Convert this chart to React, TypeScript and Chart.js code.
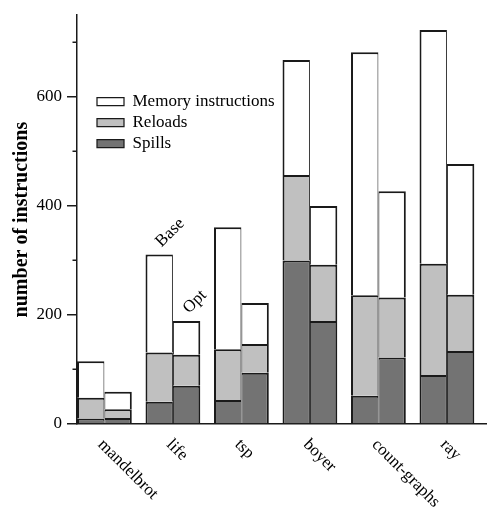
import React, { useEffect, useRef } from "react";
import { Chart, registerables } from "chart.js";

Chart.register(...registerables);

const categories = ["mandelbrot", "life", "tsp", "boyer", "count-graphs", "ray"];
const baseSpills = [10, 41, 44, 300, 52, 90];
const baseReloads = [38, 90, 93, 157, 184, 204];
const baseMemory = [67, 180, 224, 211, 446, 429];
const optSpills = [11, 70, 94, 189, 122, 134];
const optReloads = [16, 57, 53, 103, 110, 103];
const optMemory = [32, 62, 75, 108, 195, 240];
const yTicks = [0, 200, 400, 600];
const yMinorTicks = [100, 300, 500, 700];
const seriesNames = ["Spills", "Reloads", "Memory instructions"];
const stackNames = ["Base", "Opt"];

const FONT = "'Liberation Serif', 'Times New Roman', serif";
const SPILL = "#737373";
const RELOAD = "#c0c0c0";
const MEMORY = "#ffffff";
const LINE = "#1a1a1a";

const toXY = (arr: number[]) => arr.map((v, i) => ({ x: i, y: v }));

const overlayPlugin = {
  id: "overlay",
  afterLayout(chart: any) {
    const lg = chart.legend;
    const a = chart.chartArea;
    if (lg && a) {
      lg.left = a.left + 16;
      lg.right = lg.left + lg.width;
      lg.top = a.top + 74;
      lg.bottom = lg.top + 300;
    }
  },
  afterDraw(chart: any) {
    const ctx = chart.ctx;
    const xs = chart.scales.x;
    const ys = chart.scales.y;
    ctx.save();
    // minor ticks on y axis
    ctx.strokeStyle = LINE;
    ctx.lineWidth = 1.5;
    yMinorTicks.forEach((v) => {
      const py = Math.round(ys.getPixelForValue(v)) + 0.25;
      ctx.beginPath();
      ctx.moveTo(ys.right - 4.5, py);
      ctx.lineTo(ys.right, py);
      ctx.stroke();
    });
    // rotated category labels
    ctx.fillStyle = "#000";
    ctx.font = `17px ${FONT}`;
    ctx.textAlign = "left";
    ctx.textBaseline = "middle";
    categories.forEach((c, i) => {
      const px = xs.getPixelForValue(i) - 4;
      const py = xs.top + 18;
      ctx.save();
      ctx.translate(px, py);
      ctx.rotate(Math.PI / 4);
      ctx.fillText(c, 0, 0);
      ctx.restore();
    });
    // Base / Opt annotations above "life"
    [2, 5].forEach((di, k) => {
      const el = chart.getDatasetMeta(di).data[1];
      if (!el) return;
      ctx.save();
      ctx.translate(el.x - 0.75, el.y - 10.2);
      ctx.rotate(-Math.PI / 4);
      ctx.fillText(stackNames[k], 0, 0);
      ctx.restore();
    });
    ctx.restore();
  },
};

export default function App() {
  const ref = useRef<HTMLCanvasElement | null>(null);

  useEffect(() => {
    if (!ref.current) return;
    const mk = (name: string, data: number[], stack: string, color: string, isBase: boolean) => ({
      label: name,
      data: toXY(data),
      stack,
      backgroundColor: color,
      borderColor: LINE,
      borderWidth: isBase
        ? { top: 2, left: 2, right: 1, bottom: 0 }
        : { top: 2, left: 1, right: 2, bottom: 0 },
      borderSkipped: "start",
      categoryPercentage: 0.8,
      barPercentage: 1,
    });
    const chart = new Chart(ref.current, {
      type: "bar",
      data: {
        datasets: [
          mk(seriesNames[0], baseSpills, "Base", SPILL, true),
          mk(seriesNames[1], baseReloads, "Base", RELOAD, true),
          mk(seriesNames[2], baseMemory, "Base", MEMORY, true),
          mk(seriesNames[0], optSpills, "Opt", SPILL, false),
          mk(seriesNames[1], optReloads, "Opt", RELOAD, false),
          mk(seriesNames[2], optMemory, "Opt", MEMORY, false),
        ] as any,
      },
      options: {
        animation: false,
        responsive: false,
        events: [],
        layout: { padding: { left: 0, top: 13, right: 0, bottom: 89 } },
        scales: {
          x: {
            type: "linear",
            min: -0.4,
            max: 5.585,
            stacked: true,
            offset: false,
            ticks: { display: false },
            afterBuildTicks: (s: any) => {
              s.ticks = categories.map((_, i) => ({ value: i }));
            },
            grid: { display: false, drawTicks: false },
            border: { display: true, color: LINE, width: 1.5 },
          },
          y: {
            min: 0,
            max: 750,
            stacked: true,
            afterBuildTicks: (s: any) => {
              s.ticks = yTicks.map((v) => ({ value: v }));
            },
            ticks: {
              stepSize: 200,
              includeBounds: false,
              color: "#000",
              padding: 5,
              font: { family: FONT, size: 17 },
            },
            grid: {
              drawOnChartArea: false,
              drawTicks: true,
              tickLength: 10,
              color: LINE,
              lineWidth: 1.5,
            },
            border: { display: true, color: LINE, width: 1.5 },
            title: {
              display: true,
              text: "number of instructions",
              color: "#000",
              font: { family: FONT, size: 20, weight: "bold" },
              padding: { top: 10, bottom: 0 },
            },
            afterFit: (s: any) => {
              s.width = 77;
            },
          },
        },
        plugins: {
          legend: {
            display: true,
            position: "chartArea" as any,
            align: "start",
            reverse: true,
            labels: {
              boxWidth: 27,
              boxHeight: 8,
              padding: 4,
              color: "#000",
              font: { family: FONT, size: 17 },
              filter: (item: any) => item.datasetIndex < 3,
            },
          },
          tooltip: { enabled: false },
          title: { display: false },
        },
      } as any,
      plugins: [overlayPlugin],
    });
    return () => chart.destroy();
  }, []);

  return (
    <div style={{ position: "absolute", left: 0, top: 0, width: 487, height: 513, background: "#fff" }}>
      <canvas ref={ref} width={487} height={513} style={{ display: "block" }} />
    </div>
  );
}
